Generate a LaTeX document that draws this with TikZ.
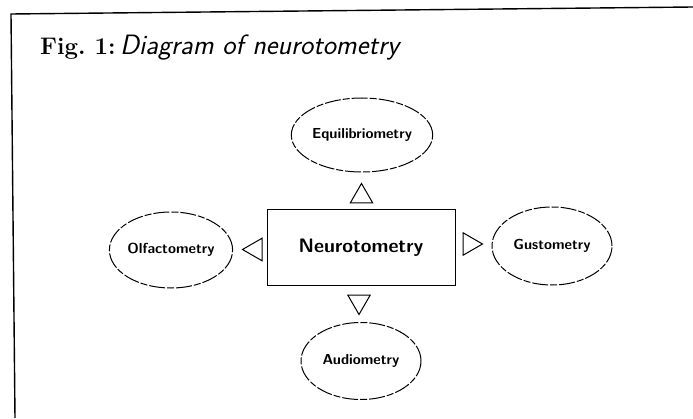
\documentclass[tikz,border=0pt]{standalone}
\usepackage{tikz}
\usetikzlibrary{shapes.geometric, shapes, calc}
\usepackage{xcolor}

\begin{document}
\begin{tikzpicture}[x=1pt, y=1pt,
    sense/.style={ellipse, draw, line width=1pt,
      dash pattern=on 16pt off 2pt on 7pt off 2pt,
      inner sep=0pt, minimum width=120pt, minimum height=76pt,
      font=\fontsize{14.5}{17}\selectfont\sffamily\bfseries},
    pointer/.style={regular polygon, regular polygon sides=3, draw,
      line width=1pt, inner sep=0pt, minimum size=26pt}]
  \useasboundingbox (0,0) rectangle (693,418);

  % frame of the scanned page
  \coordinate (tl) at (11,404);
  \coordinate (tr) at (693,411);
  \coordinate (bl) at (15,0);
  \draw[line width=1.4pt] (tr) -- (tl) -- (bl);

  % caption
  \node[anchor=base west, inner sep=0pt] (title) at (40,363)
    {{\fontsize{24}{28}\selectfont\bfseries Fig.\ 1:}
     {\fontsize{28}{31}\selectfont\sffamily\itshape Diagram of neurotometry}};

  % central box
  \node[draw, line width=1pt, minimum width=188pt, minimum height=75pt,
        font=\fontsize{19.5}{22}\selectfont\sffamily\bfseries]
    (neuro) at (361,170.5) {Neurotometry};

  % the four branches
  \node[sense, minimum height=74pt] (equil) at (362,283) {Equilibriometry};
  \node[sense] (olf)  at (171,168) {Olfactometry};
  \node[sense, minimum height=78pt] (gust) at (552,172) {Gustometry};
  \node[sense, minimum height=77pt] (aud)  at (361,57)  {Audiometry};

  % arrowheads between box and branches
  \node[pointer] (toequil) at (361.5,221.5) {};
  \node[pointer, shape border rotate=90]  (toolf)  at (255.5,168.5) {};
  \node[pointer, shape border rotate=270] (togust) at (469.5,174) {};
  \node[pointer, shape border rotate=180] (toaud)  at (359,116.5) {};
\end{tikzpicture}
\end{document}
